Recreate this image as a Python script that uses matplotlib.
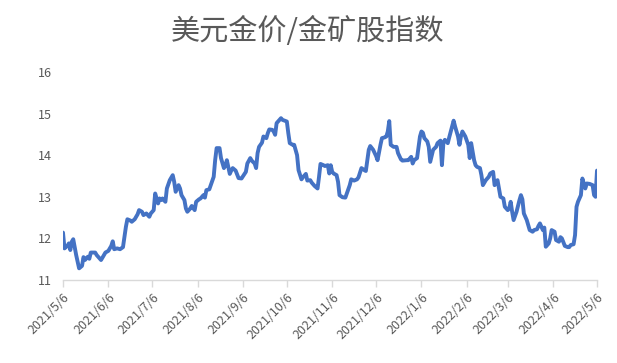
import matplotlib
matplotlib.use("Agg")
import matplotlib.pyplot as plt
import pandas as pd

plt.rcParams['font.family'] = ['Noto Sans CJK SC', 'DejaVu Sans']

title = "美元金价/金矿股指数"

dates = [
    "2021-05-06", "2021-05-07", "2021-05-09", "2021-05-10", "2021-05-11", "2021-05-12", "2021-05-13",
    "2021-05-15", "2021-05-17", "2021-05-19", "2021-05-20", "2021-05-21", "2021-05-23", "2021-05-24",
    "2021-05-25", "2021-05-28", "2021-05-29", "2021-06-01", "2021-06-04", "2021-06-06", "2021-06-08",
    "2021-06-09", "2021-06-10", "2021-06-12", "2021-06-14", "2021-06-16", "2021-06-18", "2021-06-19",
    "2021-06-21", "2021-06-22", "2021-06-24", "2021-06-26", "2021-06-27", "2021-06-29", "2021-06-30",
    "2021-07-02", "2021-07-04", "2021-07-05", "2021-07-07", "2021-07-08", "2021-07-10", "2021-07-11",
    "2021-07-12", "2021-07-13", "2021-07-15", "2021-07-16", "2021-07-18", "2021-07-20", "2021-07-21",
    "2021-07-22", "2021-07-24", "2021-07-25", "2021-07-26", "2021-07-28", "2021-07-29", "2021-07-30",
    "2021-08-01", "2021-08-02", "2021-08-04", "2021-08-05", "2021-08-07", "2021-08-08", "2021-08-10",
    "2021-08-11", "2021-08-12", "2021-08-14", "2021-08-15", "2021-08-17", "2021-08-18", "2021-08-19",
    "2021-08-21", "2021-08-22", "2021-08-24", "2021-08-25", "2021-08-26", "2021-08-28", "2021-08-29",
    "2021-08-30", "2021-09-01", "2021-09-03", "2021-09-05", "2021-09-08", "2021-09-09", "2021-09-11",
    "2021-09-12", "2021-09-14", "2021-09-15", "2021-09-16", "2021-09-17", "2021-09-19", "2021-09-20",
    "2021-09-22", "2021-09-23", "2021-09-24", "2021-09-26", "2021-09-27", "2021-09-28", "2021-09-29",
    "2021-09-30", "2021-10-02", "2021-10-03", "2021-10-06", "2021-10-07", "2021-10-08", "2021-10-10",
    "2021-10-11", "2021-10-13", "2021-10-14", "2021-10-16", "2021-10-17", "2021-10-19", "2021-10-20",
    "2021-10-22", "2021-10-23", "2021-10-25", "2021-10-27", "2021-10-28", "2021-10-29", "2021-10-31",
    "2021-11-01", "2021-11-03", "2021-11-04", "2021-11-05", "2021-11-06", "2021-11-07", "2021-11-09",
    "2021-11-10", "2021-11-11", "2021-11-13", "2021-11-15", "2021-11-16", "2021-11-18", "2021-11-19",
    "2021-11-21", "2021-11-23", "2021-11-24", "2021-11-26", "2021-11-28", "2021-11-29", "2021-12-01",
    "2021-12-02", "2021-12-04", "2021-12-06", "2021-12-07", "2021-12-09", "2021-12-10", "2021-12-12",
    "2021-12-13", "2021-12-14", "2021-12-15", "2021-12-16", "2021-12-18", "2021-12-20", "2021-12-21",
    "2021-12-23", "2021-12-24", "2021-12-27", "2021-12-28", "2021-12-30", "2021-12-31", "2022-01-01",
    "2022-01-03", "2022-01-05", "2022-01-06", "2022-01-07", "2022-01-08", "2022-01-10", "2022-01-11",
    "2022-01-12", "2022-01-14", "2022-01-16", "2022-01-17", "2022-01-19", "2022-01-20", "2022-01-21",
    "2022-01-22", "2022-01-24", "2022-01-25", "2022-01-27", "2022-01-28", "2022-01-29", "2022-01-31",
    "2022-02-01", "2022-02-02", "2022-02-03", "2022-02-05", "2022-02-07", "2022-02-08", "2022-02-09",
    "2022-02-11", "2022-02-12", "2022-02-13", "2022-02-15", "2022-02-16", "2022-02-17", "2022-02-19",
    "2022-02-21", "2022-02-22", "2022-02-24", "2022-02-25", "2022-02-27", "2022-02-28", "2022-03-01",
    "2022-03-03", "2022-03-04", "2022-03-06", "2022-03-07", "2022-03-08", "2022-03-09", "2022-03-10",
    "2022-03-12", "2022-03-14", "2022-03-15", "2022-03-16", "2022-03-17", "2022-03-19", "2022-03-20",
    "2022-03-21", "2022-03-23", "2022-03-24", "2022-03-26", "2022-03-27", "2022-03-28", "2022-03-30",
    "2022-03-31", "2022-04-01", "2022-04-03", "2022-04-04", "2022-04-05", "2022-04-07", "2022-04-08",
    "2022-04-10", "2022-04-11", "2022-04-12", "2022-04-14", "2022-04-16", "2022-04-17", "2022-04-18",
    "2022-04-20", "2022-04-21", "2022-04-22", "2022-04-23", "2022-04-25", "2022-04-26", "2022-04-27",
    "2022-04-28", "2022-04-29", "2022-05-01", "2022-05-03", "2022-05-04", "2022-05-05", "2022-05-06",
]

ratio = [
    12.14, 11.76, 11.82, 11.88, 11.72, 11.92, 11.98,
    11.60, 11.28, 11.34, 11.55, 11.48, 11.56, 11.51,
    11.66, 11.66, 11.60, 11.48, 11.66, 11.70, 11.82,
    11.93, 11.74, 11.76, 11.74, 11.79, 12.28, 12.46,
    12.43, 12.40, 12.46, 12.58, 12.68, 12.64, 12.56,
    12.60, 12.52, 12.60, 12.68, 13.08, 12.84, 12.96,
    12.92, 12.96, 12.88, 13.20, 13.40, 13.52, 13.36,
    13.12, 13.28, 13.20, 13.04, 12.92, 12.72, 12.64,
    12.72, 12.78, 12.68, 12.88, 12.94, 12.96, 13.04,
    12.98, 13.16, 13.18, 13.28, 13.48, 13.88, 14.17,
    14.17, 13.93, 13.69, 13.76, 13.88, 13.55, 13.63,
    13.69, 13.63, 13.45, 13.44, 13.60, 13.80, 13.93,
    13.87, 13.80, 13.69, 14.05, 14.20, 14.30, 14.45,
    14.41, 14.53, 14.62, 14.61, 14.57, 14.49, 14.77,
    14.81, 14.89, 14.85, 14.81, 14.53, 14.29, 14.25,
    14.25, 14.00, 13.64, 13.42, 13.47, 13.55, 13.39,
    13.40, 13.34, 13.26, 13.20, 13.48, 13.79, 13.76,
    13.74, 13.76, 13.56, 13.76, 13.60, 13.56, 13.52,
    13.36, 13.04, 12.99, 12.98, 13.08, 13.28, 13.42,
    13.39, 13.42, 13.47, 13.69, 13.64, 13.62, 14.13,
    14.22, 14.13, 13.98, 13.88, 14.25, 14.41, 14.43,
    14.45, 14.57, 14.82, 14.25, 14.20, 14.20, 14.05,
    13.90, 13.87, 13.88, 13.88, 13.96, 13.80, 13.88,
    13.93, 14.45, 14.57, 14.54, 14.41, 14.33, 14.20,
    13.84, 14.13, 14.20, 14.29, 14.35, 13.76, 14.29,
    14.37, 14.29, 14.43, 14.69, 14.83, 14.69, 14.45,
    14.25, 14.45, 14.57, 14.45, 14.25, 13.93, 14.29,
    13.88, 13.76, 13.72, 13.69, 13.52, 13.28, 13.40,
    13.48, 13.56, 13.60, 13.28, 13.40, 13.20, 13.00,
    12.96, 12.76, 12.68, 12.72, 12.88, 12.64, 12.44,
    12.64, 12.92, 13.04, 12.94, 12.60, 12.44, 12.32,
    12.20, 12.16, 12.20, 12.22, 12.30, 12.36, 12.20,
    12.26, 11.80, 11.88, 12.00, 12.20, 12.16, 11.96,
    11.92, 12.03, 12.00, 11.82, 11.79, 11.79, 11.84,
    11.86, 12.08, 12.76, 12.88, 13.04, 13.44, 13.32,
    13.20, 13.32, 13.31, 13.28, 13.04, 13.00, 13.63,
]

tick_dates = ["2021-05-06", "2021-06-06", "2021-07-06", "2021-08-06", "2021-09-06",
              "2021-10-06", "2021-11-06", "2021-12-06", "2022-01-06", "2022-02-06",
              "2022-03-06", "2022-04-06", "2022-05-06"]
tick_labels = ["2021/5/6", "2021/6/6", "2021/7/6", "2021/8/6", "2021/9/6",
               "2021/10/6", "2021/11/6", "2021/12/6", "2022/1/6", "2022/2/6",
               "2022/3/6", "2022/4/6", "2022/5/6"]
y_ticks = [11, 12, 13, 14, 15, 16]

x = pd.to_datetime(dates)
xt = pd.to_datetime(tick_dates)

fig = plt.figure(figsize=(6.17, 3.63), dpi=100)
ax = fig.add_axes([63/617, 1-280/363, (597-63)/617, (280-72)/363])

ax.plot(x, ratio, color="#4472C4", linewidth=2.8, solid_joinstyle="round", solid_capstyle="round")

ax.set_xlim(xt[0], xt[-1])
ax.set_ylim(11, 16)
ax.set_yticks(y_ticks)
ax.set_yticklabels([str(v) for v in y_ticks])
ax.set_xticks(xt)
ax.set_xticklabels(tick_labels, rotation=45, ha="right", rotation_mode="anchor")

for s in ["top", "right", "left"]:
    ax.spines[s].set_visible(False)
ax.spines["bottom"].set_color("#d9d9d9")
ax.spines["bottom"].set_linewidth(1.0)

ax.tick_params(axis="x", colors="#d9d9d9", length=5, width=1, labelcolor="#595959",
               labelsize=9, pad=3)
ax.tick_params(axis="y", length=0, labelcolor="#595959", labelsize=9, pad=8)

fig.text(0.498, 0.912, title, ha="center", va="center", fontsize=21,
         color="#595959", fontweight="light")

fig.savefig("out.png", dpi=100, facecolor="white")
